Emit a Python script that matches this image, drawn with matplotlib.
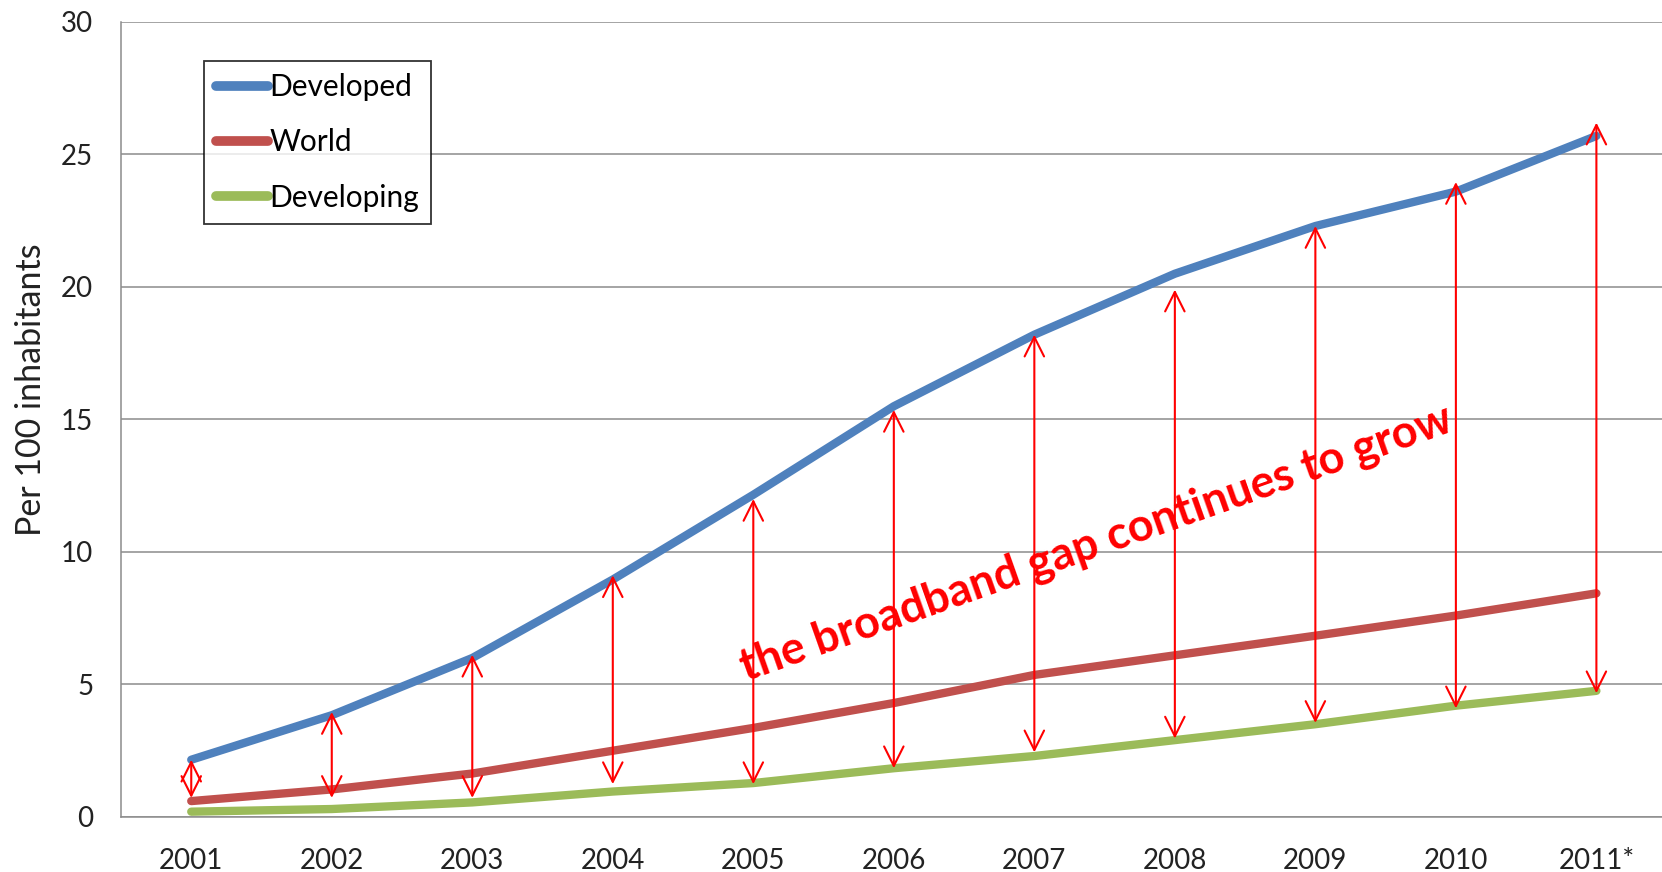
import matplotlib.pyplot as plt
import numpy as np

# Broadband subscriptions per 100 inhabitants
years = ["2001", "2002", "2003", "2004", "2005", "2006",
         "2007", "2008", "2009", "2010", "2011*"]
developed = [2.16, 3.84, 6.0, 8.96, 12.16, 15.5, 18.2, 20.5, 22.3, 23.6, 25.7]
world = [0.6, 1.04, 1.64, 2.5, 3.36, 4.3, 5.36, 6.1, 6.84, 7.6, 8.44]
developing = [0.2, 0.3, 0.55, 0.96, 1.28, 1.84, 2.3, 2.9, 3.5, 4.2, 4.76]

# gap arrows: top and bottom ends
arrow_top = [2.16, 3.96, 6.12, 9.12, 12.0, 15.36, 18.2, 19.9, 22.3, 23.96, 26.2]
arrow_bottom = [0.72, 0.72, 0.72, 1.24, 1.24, 1.84, 2.44, 2.96, 3.55, 4.1, 4.67]

plt.rcParams['font.family'] = ['Lato', 'DejaVu Sans']

fig = plt.figure(figsize=(16.62, 8.72), dpi=100)
ax = fig.add_axes([0.0728, 0.0631, 0.93, 0.9117])

x = np.arange(len(years))
ax.plot(x, developed, color='#4F81BD', lw=6, solid_capstyle='round', label='Developed', zorder=3)
ax.plot(x, world, color='#C0504D', lw=6, solid_capstyle='round', label='World', zorder=3)
ax.plot(x, developing, color='#9BBB59', lw=6, solid_capstyle='round', label='Developing', zorder=3)

for xi, top, bot in zip(x, arrow_top, arrow_bottom):
    ax.annotate('', xy=(xi, top), xytext=(xi, bot),
                arrowprops=dict(arrowstyle='<->,head_length=1.4,head_width=0.7',
                                color='red', lw=1.5, shrinkA=0, shrinkB=0),
                zorder=4)

ax.text(3.95, 5.15, 'the broadband gap continues to grow', color='red',
        fontsize=32.5, fontweight='bold', rotation=19.5, rotation_mode='anchor',
        ha='left', va='baseline', zorder=5)

ax.set_xlim(-0.5, 10.5)
ax.set_ylim(0, 30)
ax.set_yticks(range(0, 31, 5))
ax.set_xticks(x)
ax.set_xticklabels(years)
ax.yaxis.grid(True, color='#8c8c8c', lw=1.1)
ax.set_axisbelow(True)
for side in ['top', 'right']:
    ax.spines[side].set_visible(False)
for side in ['left', 'bottom']:
    ax.spines[side].set_color('#8c8c8c')
    ax.spines[side].set_linewidth(1.1)
ax.tick_params(axis='both', length=0, labelsize=20, colors='#222222')
ax.tick_params(axis='y', pad=20)
ax.tick_params(axis='x', pad=22)
ax.set_ylabel('Per 100 inhabitants', fontsize=24.5, color='#222222')
ax.yaxis.set_label_coords(-0.048, 0.537)

leg = ax.legend(loc='upper left', bbox_to_anchor=(0.1227, 0.930),
                bbox_transform=fig.transFigure, fontsize=21.5, frameon=True,
                fancybox=False, edgecolor='black', handlelength=1.75,
                handletextpad=0.05, labelspacing=0.92, borderpad=0.4,
                borderaxespad=0)
leg.get_frame().set_linewidth(1.3)
for line in leg.get_lines():
    line.set_linewidth(7)

fig.savefig('out.png', dpi=100, facecolor='white')
